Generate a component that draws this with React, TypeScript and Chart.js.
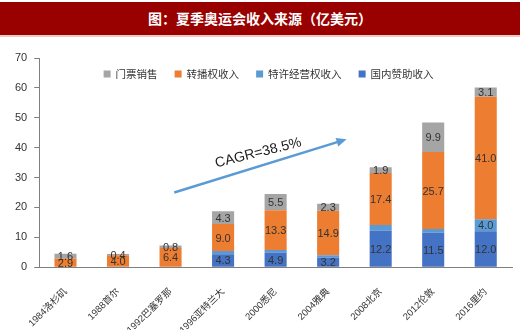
import React, { useEffect, useRef } from "react";
import { Chart, registerables } from "chart.js";

Chart.register(...registerables);

const categories = ["1984洛杉矶", "1988首尔", "1992巴塞罗那", "1996亚特兰大", "2000悉尼", "2004雅典", "2008北京", "2012伦敦", "2016里约"];
const domestic = [0, 0, 0, 4.3, 4.9, 3.2, 12.2, 11.5, 12.0];
const licensing = [0, 0, 0, 1.1, 0.8, 0.8, 1.9, 1.3, 4.0];
const broadcast = [2.9, 4.0, 6.4, 9.0, 13.3, 14.9, 17.4, 25.7, 41.0];
const tickets = [1.6, 0.4, 0.8, 4.3, 5.5, 2.3, 1.9, 9.9, 3.1];
const seriesNames = ["国内赞助收入", "特许经营权收入", "转播权收入", "门票销售"];
const yTicks = [0, 10, 20, 30, 40, 50, 60, 70];
const titleText = "图：夏季奥运会收入来源（亿美元）";
const cagrText = "CAGR=38.5%";
// arrow annotation in data space: [category index, value]
const arrowFrom = [2.07, 25];
const arrowTo = [5.35, 42.8];
const cagrPos = [3.67, 38.2];
const cagrAngleDeg = -14;

const colors = ["#4472C4", "#5B9BD5", "#ED7D31", "#A5A5A5"];
const numFont = "'Liberation Sans', Arial, sans-serif";
const cjkFont = "'Liberation Sans', 'Noto Sans CJK SC', sans-serif";

const labelPlugin = {
  id: "segLabels",
  afterDatasetsDraw(chart: any) {
    const ctx = chart.ctx;
    ctx.save();
    ctx.font = `11px ${numFont}`;
    ctx.fillStyle = "#333333";
    ctx.textAlign = "center";
    ctx.textBaseline = "middle";
    chart.data.datasets.forEach((ds: any, di: number) => {
      const meta = chart.getDatasetMeta(di);
      meta.data.forEach((el: any, i: number) => {
        const v = ds.data[i];
        if (!v) return;
        if (di === 1 && v < 3) return;
        const y = (el.y + el.base) / 2;
        ctx.fillText(v.toFixed(1), el.x, y + 1);
      });
    });
    ctx.restore();
  },
};

const annotationPlugin = {
  id: "cagr",
  afterDraw(chart: any) {
    const ctx = chart.ctx;
    const xs = chart.scales.x;
    const ys = chart.scales.y;
    const x1 = xs.getPixelForValue(arrowFrom[0]);
    const y1 = ys.getPixelForValue(arrowFrom[1]);
    const x2 = xs.getPixelForValue(arrowTo[0]);
    const y2 = ys.getPixelForValue(arrowTo[1]);
    const ang = Math.atan2(y2 - y1, x2 - x1);
    ctx.save();
    ctx.strokeStyle = "#5B9BD5";
    ctx.fillStyle = "#5B9BD5";
    ctx.lineWidth = 2.5;
    const hl = 10;
    ctx.beginPath();
    ctx.moveTo(x1, y1);
    ctx.lineTo(x2 - Math.cos(ang) * hl * 0.8, y2 - Math.sin(ang) * hl * 0.8);
    ctx.stroke();
    ctx.beginPath();
    ctx.moveTo(x2, y2);
    ctx.lineTo(x2 - hl * Math.cos(ang) + 4.5 * Math.sin(ang), y2 - hl * Math.sin(ang) - 4.5 * Math.cos(ang));
    ctx.lineTo(x2 - hl * Math.cos(ang) - 4.5 * Math.sin(ang), y2 - hl * Math.sin(ang) + 4.5 * Math.cos(ang));
    ctx.closePath();
    ctx.fill();
    const tx = xs.getPixelForValue(cagrPos[0]);
    const ty = ys.getPixelForValue(cagrPos[1]);
    ctx.translate(tx, ty);
    ctx.rotate((cagrAngleDeg * Math.PI) / 180);
    ctx.font = `14px ${numFont}`;
    ctx.fillStyle = "#1a1a1a";
    ctx.textAlign = "center";
    ctx.textBaseline = "middle";
    ctx.fillText(cagrText, 0, 0);
    ctx.restore();
  },
};

const legendPlugin = {
  id: "innerLegend",
  afterDraw(chart: any) {
    const ctx = chart.ctx;
    const area = chart.chartArea;
    ctx.save();
    ctx.font = `10.5px 'Noto Sans CJK SC', sans-serif`;
    ctx.textBaseline = "middle";
    const order = [3, 2, 1, 0];
    const box = 7;
    const gapText = 5;
    const gapItem = 17;
    const widths = order.map((i) => box + gapText + ctx.measureText(chart.data.datasets[i].label).width);
    const total = widths.reduce((a, b) => a + b, 0) + gapItem * (order.length - 1);
    let x = (area.left + area.right) / 2 - total / 2 - 7;
    const y = area.top + 16;
    order.forEach((di, k) => {
      ctx.fillStyle = chart.data.datasets[di].backgroundColor;
      ctx.fillRect(x, y - box / 2, box, box);
      ctx.fillStyle = "#333333";
      ctx.fillText(chart.data.datasets[di].label, x + box + gapText, y);
      x += widths[k] + gapItem;
    });
    ctx.restore();
  },
};

export default function App() {
  const ref = useRef<HTMLCanvasElement | null>(null);
  useEffect(() => {
    document.body.style.margin = "0";
    const values = [domestic, licensing, broadcast, tickets];
    const chart = new Chart(ref.current as HTMLCanvasElement, {
      type: "bar",
      data: {
        labels: categories,
        datasets: values.map((d, i) => ({
          label: seriesNames[i],
          data: d,
          backgroundColor: colors[i],
          borderWidth: 0,
          categoryPercentage: 1,
          barPercentage: 0.42,
        })),
      },
      options: {
        responsive: false,
        animation: false,
        layout: { padding: { top: 58, left: 8, right: 8, bottom: 2 } },
        plugins: { legend: { display: false }, tooltip: { enabled: false } },
        scales: {
          x: {
            stacked: true,
            grid: { display: false },
            border: { display: true, color: "#7f7f7f" },
            ticks: {
              minRotation: 45,
              maxRotation: 45,
              autoSkip: false,
              padding: 11,
              color: "#333333",
              font: { size: 9.5, family: cjkFont },
            },
          },
          y: {
            stacked: true,
            min: yTicks[0],
            max: yTicks[yTicks.length - 1],
            afterBuildTicks: (axis: any) => {
              axis.ticks = yTicks.map((v) => ({ value: v }));
            },
            grid: { drawOnChartArea: false, tickLength: 5, color: "#7f7f7f" },
            border: { display: true, color: "#7f7f7f" },
            ticks: { padding: 7, color: "#333333", font: { size: 11, family: numFont } },
          },
        },
      },
      plugins: [labelPlugin, annotationPlugin, legendPlugin],
    });
    return () => chart.destroy();
  }, []);
  return (
    <div style={{ position: "relative", width: 520, height: 330, overflow: "hidden", background: "#fff" }}>
      <canvas ref={ref} width={520} height={349} style={{ display: "block" }} />
      <div
        style={{
          position: "absolute",
          top: 2,
          left: 0,
          width: 520,
          height: 33,
          lineHeight: "33px",
          background: "#990000",
          color: "#ffffff",
          textAlign: "center",
          fontWeight: "bold",
          fontSize: 14,
          fontFamily: "'Noto Sans CJK SC', sans-serif",
          borderBottom: "2px solid #f2c6c6",
        }}
      >
        {titleText}
      </div>
    </div>
  );
}
